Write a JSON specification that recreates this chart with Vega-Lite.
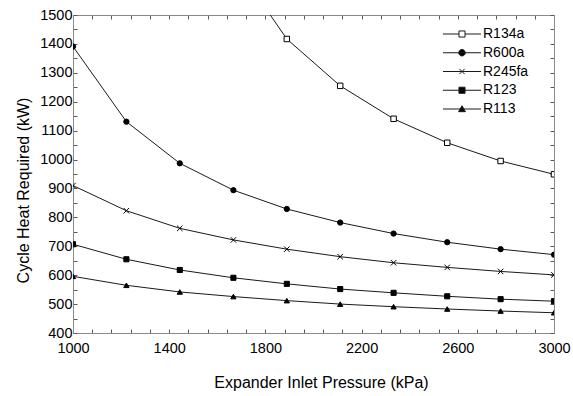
{
  "$schema": "https://vega.github.io/schema/vega-lite/v6.json",
  "width": 481,
  "height": 318,
  "autosize": {"type": "none"},
  "padding": {"left": 73, "top": 15, "right": 19, "bottom": 63},
  "background": "white",
  "config": {
    "view": {"stroke": null},
    "axis": {
      "grid": false,
      "domainColor": "#8a8a8a",
      "tickColor": "#5a5a5a",
      "tickWidth": 1,
      "labelFont": "Liberation Sans",
      "labelFontSize": 14.5,
      "labelColor": "#000000",
      "titleFont": "Liberation Sans",
      "titleFontSize": 16,
      "titleFontWeight": "normal",
      "titleColor": "#000000",
      "labelOverlap": false,
      "labelFlush": false,
      "labelBound": false
    }
  },
  "data": {
    "values": [
      {"s": "R134a", "p": 1667, "q": 1685},
      {"s": "R134a", "p": 1889, "q": 1417},
      {"s": "R134a", "p": 2111, "q": 1255},
      {"s": "R134a", "p": 2333, "q": 1141},
      {"s": "R134a", "p": 2556, "q": 1058},
      {"s": "R134a", "p": 2778, "q": 995},
      {"s": "R134a", "p": 3000, "q": 949},
      {"s": "R600a", "p": 1000, "q": 1391},
      {"s": "R600a", "p": 1222, "q": 1131},
      {"s": "R600a", "p": 1444, "q": 987},
      {"s": "R600a", "p": 1667, "q": 894},
      {"s": "R600a", "p": 1889, "q": 829},
      {"s": "R600a", "p": 2111, "q": 782},
      {"s": "R600a", "p": 2333, "q": 744},
      {"s": "R600a", "p": 2556, "q": 714},
      {"s": "R600a", "p": 2778, "q": 690},
      {"s": "R600a", "p": 3000, "q": 671},
      {"s": "R245fa", "p": 1000, "q": 910},
      {"s": "R245fa", "p": 1222, "q": 823},
      {"s": "R245fa", "p": 1444, "q": 762},
      {"s": "R245fa", "p": 1667, "q": 722},
      {"s": "R245fa", "p": 1889, "q": 690},
      {"s": "R245fa", "p": 2111, "q": 664},
      {"s": "R245fa", "p": 2333, "q": 643},
      {"s": "R245fa", "p": 2556, "q": 627},
      {"s": "R245fa", "p": 2778, "q": 613},
      {"s": "R245fa", "p": 3000, "q": 601},
      {"s": "R123", "p": 1000, "q": 707},
      {"s": "R123", "p": 1222, "q": 655},
      {"s": "R123", "p": 1444, "q": 618},
      {"s": "R123", "p": 1667, "q": 591},
      {"s": "R123", "p": 1889, "q": 570},
      {"s": "R123", "p": 2111, "q": 552},
      {"s": "R123", "p": 2333, "q": 539},
      {"s": "R123", "p": 2556, "q": 527},
      {"s": "R123", "p": 2778, "q": 517},
      {"s": "R123", "p": 3000, "q": 510},
      {"s": "R113", "p": 1000, "q": 596},
      {"s": "R113", "p": 1222, "q": 565},
      {"s": "R113", "p": 1444, "q": 542},
      {"s": "R113", "p": 1667, "q": 526},
      {"s": "R113", "p": 1889, "q": 512},
      {"s": "R113", "p": 2111, "q": 500},
      {"s": "R113", "p": 2333, "q": 491},
      {"s": "R113", "p": 2556, "q": 483},
      {"s": "R113", "p": 2778, "q": 476},
      {"s": "R113", "p": 3000, "q": 470}
    ]
  },
  "layer": [
    {
      "mark": {"type": "line", "clip": true, "strokeWidth": 1},
      "encoding": {
        "x": {
          "field": "p", "type": "quantitative",
          "scale": {"domain": [1000, 3000], "nice": false, "zero": false},
          "axis": {
            "orient": "bottom",
            "values": [1000,1080,1160,1240,1320,1400,1480,1560,1640,1720,1800,1880,1960,2040,2120,2200,2280,2360,2440,2520,2600,2680,2760,2840,2920,3000],
            "format": "d",
            "labelExpr": "(datum.value-1000)%400==0 ? datum.label : ''",
            "tickSize": -4,
            "labelPadding": 12,
            "title": "Expander Inlet Pressure (kPa)",
            "titleX": 248,
            "titleY": 54,
            "titleAlign": "center",
            "titleBaseline": "alphabetic",
            "encode": {"ticks": {"update": {"y2": {"signal": "(datum.value-1000)%400==0 ? -5 : -3"}}}}
          }
        },
        "y": {
          "field": "q", "type": "quantitative",
          "scale": {"domain": [400, 1500], "nice": false, "zero": false},
          "axis": {
            "orient": "left",
            "values": [400,450,500,550,600,650,700,750,800,850,900,950,1000,1050,1100,1150,1200,1250,1300,1350,1400,1450,1500],
            "format": "d",
            "labelExpr": "datum.value%100==0 ? datum.label : ''",
            "tickSize": -4,
            "labelPadding": 5,
            "title": "Cycle Heat Required (kW)",
            "titleX": -45,
            "titleY": 175,
            "titleAngle": -90,
            "titleAlign": "center",
            "titleBaseline": "alphabetic",
            "encode": {"ticks": {"update": {"x2": {"signal": "datum.value%100==0 ? 5 : 3"}}}}
          }
        },
        "color": {
          "field": "s", "type": "nominal",
          "scale": {
            "domain": ["R134a", "R600a", "R245fa", "R123", "R113"],
            "range": ["#1a1a1a", "#1a1a1a", "#1a1a1a", "#1a1a1a", "#1a1a1a"]
          },
          "legend": {
            "orient": "none",
            "legendX": 382,
            "legendY": 12,
            "title": null,
            "padding": 0,
            "labelFont": "Liberation Sans",
            "labelFontSize": 14,
            "labelColor": "#000000",
            "labelOffset": 14,
            "rowPadding": 4.75,
            "symbolSize": 58,
            "symbolStrokeWidth": 1,
            "encode": {
              "symbols": {
                "update": {
                  "shape": {"signal": "datum.value==='R134a' ? 'M-5,0H-0.8M0.8,0H5M-0.8,-0.8H0.8V0.8H-0.8Z' : datum.value==='R600a' ? 'M-5,0H5M0.85,0A0.85,0.85 0 1,1 -0.85,0A0.85,0.85 0 1,1 0.85,0Z' : datum.value==='R245fa' ? 'M-5,0H5M-0.7,-0.7L0.7,0.7M-0.7,0.7L0.7,-0.7' : datum.value==='R123' ? 'M-5,0H5M-0.8,-0.8H0.8V0.8H-0.8Z' : 'M-5,0H5M-0.9,0.7L0,-0.85L0.9,0.7Z'"},
                  "fill": {"signal": "datum.value==='R134a' ? '#ffffff' : '#000000'"},
                  "size": {"value": 58},
                  "opacity": {"value": 1},
                  "strokeWidth": {"value": 1}
                }
              }
            }
          }
        }
      }
    },
    {
      "transform": [{"filter": {"field": "s", "equal": "R134a"}}],
      "mark": {"type": "point", "clip": true, "shape": "square", "filled": false, "fill": "#ffffff", "stroke": "#000000", "strokeWidth": 1, "opacity": 1, "size": 30},
      "encoding": {
        "x": {
          "field": "p", "type": "quantitative",
          "axis": {
            "orient": "top",
            "values": [1000,1080,1160,1240,1320,1400,1480,1560,1640,1720,1800,1880,1960,2040,2120,2200,2280,2360,2440,2520,2600,2680,2760,2840,2920,3000],
            "labels": false,
            "title": null,
            "tickSize": -4,
            "encode": {"ticks": {"update": {"y2": {"signal": "(datum.value-1000)%400==0 ? 5 : 3"}}}}
          }
        },
        "y": {
          "field": "q", "type": "quantitative",
          "axis": {
            "orient": "right",
            "values": [400,450,500,550,600,650,700,750,800,850,900,950,1000,1050,1100,1150,1200,1250,1300,1350,1400,1450,1500],
            "labels": false,
            "title": null,
            "tickSize": -4,
            "encode": {"ticks": {"update": {"x2": {"signal": "datum.value%100==0 ? -5 : -3"}}}}
          }
        }
      }
    },
    {
      "transform": [{"filter": {"field": "s", "equal": "R600a"}}],
      "mark": {"type": "point", "clip": true, "shape": "circle", "filled": true, "fill": "#000000", "stroke": "#000000", "strokeWidth": 1, "opacity": 1, "size": 28},
      "encoding": {
        "x": {"field": "p", "type": "quantitative", "axis": null},
        "y": {"field": "q", "type": "quantitative", "axis": null}
      }
    },
    {
      "transform": [{"filter": {"field": "s", "equal": "R245fa"}}],
      "mark": {"type": "point", "clip": true, "shape": "M-1,-1L1,1M-1,1L1,-1", "filled": false, "stroke": "#000000", "strokeWidth": 1, "opacity": 1, "size": 30},
      "encoding": {
        "x": {"field": "p", "type": "quantitative", "axis": null},
        "y": {"field": "q", "type": "quantitative", "axis": null}
      }
    },
    {
      "transform": [{"filter": {"field": "s", "equal": "R123"}}],
      "mark": {"type": "point", "clip": true, "shape": "square", "filled": true, "fill": "#000000", "stroke": "#000000", "strokeWidth": 1, "opacity": 1, "size": 26},
      "encoding": {
        "x": {"field": "p", "type": "quantitative", "axis": null},
        "y": {"field": "q", "type": "quantitative", "axis": null}
      }
    },
    {
      "transform": [{"filter": {"field": "s", "equal": "R113"}}],
      "mark": {"type": "point", "clip": true, "shape": "triangle-up", "filled": true, "fill": "#000000", "stroke": "#000000", "strokeWidth": 1, "opacity": 1, "size": 28},
      "encoding": {
        "x": {"field": "p", "type": "quantitative", "axis": null},
        "y": {"field": "q", "type": "quantitative", "axis": null}
      }
    }
  ],
  "resolve": {"axis": {"x": "independent", "y": "independent"}}
}
